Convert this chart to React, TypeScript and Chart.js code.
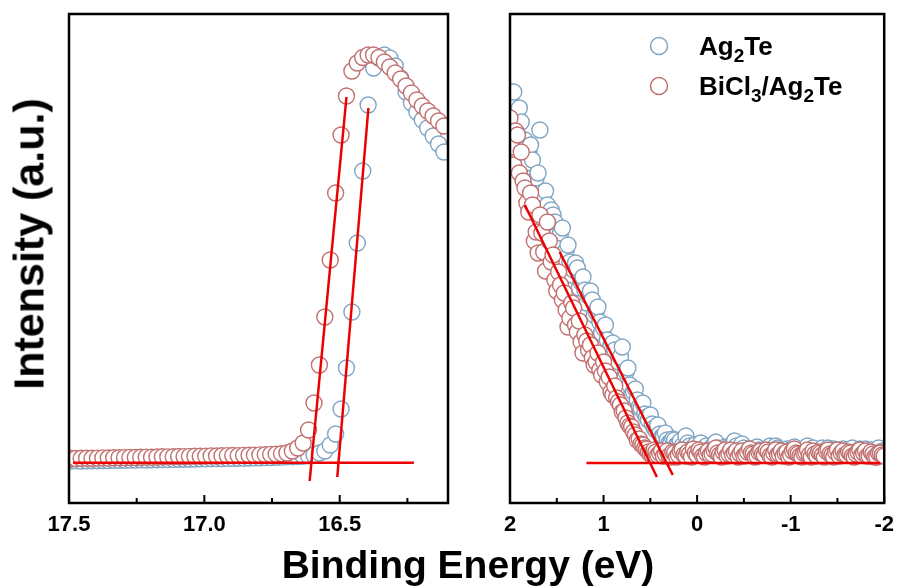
import React, { useEffect, useRef } from "react";
import { Chart, registerables } from "chart.js";

Chart.register(...registerables);

const FONT = "'Liberation Sans', Arial, Helvetica, sans-serif";

// ---------- Left panel (secondary-electron cutoff) ----------
const LEFT_ENERGY = [
  17.495, 17.475, 17.455, 17.435, 17.415, 17.395, 17.375, 17.355, 17.335, 17.315,
  17.295, 17.275, 17.255, 17.235, 17.215, 17.195, 17.175, 17.155, 17.135, 17.115,
  17.095, 17.075, 17.055, 17.035, 17.015, 16.995, 16.975, 16.955, 16.935, 16.915,
  16.895, 16.875, 16.855, 16.835, 16.815, 16.795, 16.775, 16.755, 16.735, 16.715,
  16.695, 16.675, 16.655, 16.635, 16.615, 16.595, 16.575, 16.555, 16.535, 16.515,
  16.495, 16.475, 16.455, 16.435, 16.415, 16.395, 16.375, 16.355, 16.335, 16.315,
  16.295, 16.275, 16.255, 16.235, 16.215, 16.195, 16.175, 16.155, 16.135, 16.115,
];
const LEFT_AG2TE = [
  42.0, 42.1, 42.0, 42.2, 42.3, 42.3, 42.5, 42.4, 42.6, 42.7,
  42.8, 42.9, 42.9, 43.1, 43.0, 43.2, 43.3, 43.4, 43.4, 43.6,
  43.7, 43.8, 43.8, 44.0, 44.1, 44.1, 44.3, 44.4, 44.4, 44.6,
  44.7, 44.8, 44.8, 45.0, 45.1, 45.2, 45.4, 45.5, 45.7, 45.9,
  46.1, 46.3, 46.5, 46.8, 47.2, 48, 50, 52, 58, 69,
  94, 135, 191, 260, 332, 398, 435, 445, 448, 445,
  437, 425, 411, 400, 391, 383, 375, 367, 359, 351,
];
const LEFT_BICL3 = [
  44.6, 44.5, 44.7, 44.8, 44.7, 44.9, 45.1, 45.0, 45.2, 45.3,
  45.4, 45.6, 45.5, 45.7, 45.9, 45.8, 46.0, 46.2, 46.1, 46.3,
  46.5, 46.4, 46.6, 46.8, 46.7, 46.9, 47.1, 47.0, 47.2, 47.4,
  47.5, 47.4, 47.6, 47.8, 47.9, 48.1, 48.3, 48.6, 48.9, 49.3,
  50, 52, 55, 60, 73, 100, 138, 186, 243, 310,
  368, 407, 432, 440, 445.5, 448, 448, 445.5, 441, 436,
  430, 424, 417, 410, 403, 397, 392, 387, 382, 377,
];
const LEFT_FIT_BICL3 = [{ x: 16.475, y: 406 }, { x: 16.611, y: 22 }];
const LEFT_FIT_AG2TE = [{ x: 16.394, y: 395 }, { x: 16.509, y: 26 }];
const LEFT_BASELINE = [{ x: 17.485, y: 40.3 }, { x: 16.226, y: 40.3 }];
const LEFT_TICKS = [17.5, 17.0, 16.5];
const LEFT_MINOR = [17.25, 16.75, 16.25];

// ---------- Right panel (valence band edge) ----------
const RIGHT_ENERGY = [
  2.0, 1.98, 1.96, 1.94, 1.92, 1.9, 1.88, 1.86, 1.84, 1.82,
  1.8, 1.78, 1.76, 1.74, 1.72, 1.7, 1.68, 1.66, 1.64, 1.62,
  1.6, 1.58, 1.56, 1.54, 1.52, 1.5, 1.48, 1.46, 1.44, 1.42,
  1.4, 1.38, 1.36, 1.34, 1.32, 1.3, 1.28, 1.26, 1.24, 1.22,
  1.2, 1.18, 1.16, 1.14, 1.12, 1.1, 1.08, 1.06, 1.04, 1.02,
  1.0, 0.98, 0.96, 0.94, 0.92, 0.9, 0.88, 0.86, 0.84, 0.82,
  0.8, 0.78, 0.76, 0.74, 0.72, 0.7, 0.68, 0.66, 0.64, 0.62,
  0.6, 0.58, 0.56, 0.54, 0.52, 0.5, 0.48, 0.46, 0.44, 0.42,
  0.4, 0.38, 0.36, 0.34, 0.32, 0.3, 0.28, 0.26, 0.24, 0.22,
  0.2, 0.18, 0.16, 0.14, 0.12, 0.1, 0.08, 0.06, 0.04, 0.02,
  0.0, -0.02, -0.04, -0.06, -0.08, -0.1, -0.12, -0.14, -0.16, -0.18,
  -0.2, -0.22, -0.24, -0.26, -0.28, -0.3, -0.32, -0.34, -0.36, -0.38,
  -0.4, -0.42, -0.44, -0.46, -0.48, -0.5, -0.52, -0.54, -0.56, -0.58,
  -0.6, -0.62, -0.64, -0.66, -0.68, -0.7, -0.72, -0.74, -0.76, -0.78,
  -0.8, -0.82, -0.84, -0.86, -0.88, -0.9, -0.92, -0.94, -0.96, -0.98,
  -1.0, -1.02, -1.04, -1.06, -1.08, -1.1, -1.12, -1.14, -1.16, -1.18,
  -1.2, -1.22, -1.24, -1.26, -1.28, -1.3, -1.32, -1.34, -1.36, -1.38,
  -1.4, -1.42, -1.44, -1.46, -1.48, -1.5, -1.52, -1.54, -1.56, -1.58,
  -1.6, -1.62, -1.64, -1.66, -1.68, -1.7, -1.72, -1.74, -1.76, -1.78,
  -1.8, -1.82, -1.84, -1.86, -1.88, -1.9, -1.92, -1.94, -1.96, -1.98,
  -2.0,
];
const RIGHT_AG2TE = [
  403, 388, 411, 372, 391, 395, 381, 352, 363, 340,
  351, 358, 343, 318, 325, 330, 373, 300, 308, 312,
  298, 280, 293, 288, 281, 268, 263, 270, 275, 245,
  253, 258, 241, 228, 233, 240, 235, 215, 221, 226,
  213, 200, 207, 212, 203, 188, 191, 196, 181, 170,
  175, 178, 163, 150, 158, 160, 153, 138, 141, 146,
  156, 125, 131, 135, 118, 108, 111, 114, 103, 96,
  95, 100, 89, 86, 83, 88, 79, 75, 73, 78,
  69, 66, 67, 70, 63, 60, 61, 64, 63, 58,
  59, 62, 57, 55, 67, 60, 57, 54, 56, 58,
  55, 52, 60, 54, 55, 57, 53, 51, 56, 58,
  61, 55, 54, 52, 52, 56, 55, 53, 51, 54,
  62, 57, 53, 50, 59, 55, 51, 53, 54, 52,
  50, 54, 56, 53, 52, 50, 49, 52, 55, 57,
  51, 53, 57, 55, 53, 50, 50, 52, 54, 51,
  51, 55, 56, 53, 52, 50, 49, 51, 54, 57,
  51, 53, 55, 50, 50, 52, 53, 55, 49, 51,
  55, 52, 51, 54, 53, 50, 49, 51, 54, 52,
  51, 50, 53, 55, 49, 51, 52, 54, 50, 52,
  54, 51, 51, 53, 49, 50, 52, 55, 50, 52,
  51,
];
const RIGHT_BICL3 = [
  385, 356, 338, 372, 368, 330, 351, 322, 315, 300,
  291, 310, 298, 262, 271, 250, 288, 270, 251, 232,
  281, 262, 241, 248, 223, 212, 231, 218, 203, 210,
  193, 176, 185, 200, 195, 178, 171, 182, 161, 150,
  168, 162, 153, 158, 145, 138, 141, 150, 133, 128,
  141, 132, 121, 126, 111, 108, 117, 105, 101, 98,
  91, 92, 85, 80, 77, 76, 71, 68, 63, 64,
  59, 58, 55, 54, 51, 49, 48, 53, 51, 48,
  50, 52, 47, 49, 52, 47, 46, 51, 50, 46,
  48, 52, 53, 48, 47, 51, 49, 46, 54, 50,
  48, 53, 51, 47, 46, 50, 52, 48, 49, 53,
  55, 50, 48, 46, 51, 53, 47, 49, 53, 48,
  50, 52, 46, 49, 52, 47, 48, 51, 54, 50,
  49, 46, 47, 51, 52, 49, 48, 53, 51, 47,
  46, 50, 53, 48, 49, 52, 47, 50, 51, 46,
  48, 52, 54, 50, 49, 47, 46, 50, 51, 53,
  48, 46, 52, 49, 47, 51, 50, 48, 46, 52,
  53, 49, 48, 46, 51, 53, 47, 50, 52, 48,
  48, 51, 50, 47, 46, 49, 51, 53, 48, 50,
  52, 47, 47, 51, 49, 46, 46, 50, 50, 48,
  47,
];
const RIGHT_FIT_BICL3 = [{ x: 1.841, y: 298 }, { x: 0.43, y: 26 }];
const RIGHT_FIT_AG2TE = [{ x: 1.469, y: 251 }, { x: 0.26, y: 28 }];
const RIGHT_BASELINE = [{ x: 1.183, y: 40 }, { x: -1.958, y: 40 }];
const RIGHT_TICKS = [2, 1, 0, -1, -2];
const RIGHT_MINOR = [1.5, 0.5, -0.5, -1.5];

const SERIES_NAMES = ["Ag_2Te", "BiCl_3/Ag_2Te"];
const BLUE = "rgb(128,166,196)";
const RED = "rgb(194,112,112)";
const FIT_RED = "#EE0000";

const frameTicksPlugin = {
  id: "frameTicks",
  afterDraw(chart: any, _args: any, opts: any) {
    const { ctx, chartArea: a } = chart;
    const xs = chart.scales.x;
    ctx.save();
    ctx.strokeStyle = "#000";
    ctx.lineWidth = 2;
    ctx.beginPath();
    for (const v of opts.major) {
      const px = xs.getPixelForValue(v);
      ctx.moveTo(px, a.bottom);
      ctx.lineTo(px, a.bottom - 8);
    }
    for (const v of opts.minor) {
      const px = xs.getPixelForValue(v);
      ctx.moveTo(px, a.bottom);
      ctx.lineTo(px, a.bottom - 5);
    }
    ctx.stroke();
    ctx.lineWidth = 2.5;
    ctx.strokeRect(a.left, a.top, a.right - a.left, a.bottom - a.top);
    ctx.restore();
  },
};

const subLegendPlugin = {
  id: "subLegend",
  afterDraw(chart: any, _args: any, opts: any) {
    if (!opts || !opts.items) return;
    const { ctx, chartArea: a } = chart;
    ctx.save();
    opts.items.forEach((item: any, i: number) => {
      const ds = chart.data.datasets[item.datasetIndex];
      const baseY = a.top + 41 + i * 40;
      const mx = a.left + 149;
      ctx.beginPath();
      ctx.arc(mx, baseY - 9, 8.5, 0, Math.PI * 2);
      ctx.fillStyle = "#fff";
      ctx.fill();
      ctx.lineWidth = 1.5;
      ctx.strokeStyle = ds.borderColor;
      ctx.stroke();
      let x = a.left + 189;
      ctx.fillStyle = "#000";
      ctx.textBaseline = "alphabetic";
      ctx.textAlign = "left";
      const parts = item.label.split(/(_\d)/).filter((p: string) => p.length);
      for (const p of parts) {
        if (p.startsWith("_")) {
          ctx.font = `bold 19px ${FONT}`;
          const t = p.slice(1);
          ctx.fillText(t, x, baseY + 6.5);
          x += ctx.measureText(t).width;
        } else {
          ctx.font = `bold 26px ${FONT}`;
          ctx.fillText(p, x, baseY);
          x += ctx.measureText(p).width;
        }
      }
    });
    ctx.restore();
  },
};

function scatterSet(energy: number[], values: number[], color: string, order: number) {
  return {
    data: energy.map((x, i) => ({ x, y: values[i] })),
    borderColor: color,
    backgroundColor: "#ffffff",
    borderWidth: 1.4,
    pointRadius: 8,
    pointHoverRadius: 8,
    showLine: false,
    clip: 0,
    order,
  };
}

function fitSet(points: { x: number; y: number }[]) {
  return {
    data: points,
    borderColor: FIT_RED,
    backgroundColor: FIT_RED,
    borderWidth: 2.5,
    pointRadius: 0,
    showLine: true,
    clip: 0,
    order: 0,
  };
}

function buildConfig(p: any) {
  return {
    type: "scatter",
    data: {
      datasets: [
        scatterSet(p.energy, p.ag2te, BLUE, 2),
        scatterSet(p.energy, p.bicl3, RED, 1),
        fitSet(p.fitA),
        fitSet(p.fitB),
        fitSet(p.base),
      ],
    },
    options: {
      responsive: false,
      animation: false,
      devicePixelRatio: 1,
      layout: { padding: { left: p.left, right: p.right, top: 14, bottom: 0 } },
      plugins: {
        legend: { display: false },
        tooltip: { enabled: false },
        frameTicks: { major: p.ticks, minor: p.minor },
        subLegend: p.legend ? { items: SERIES_NAMES.map((label, i) => ({ label, datasetIndex: i })) } : {},
      },
      scales: {
        x: {
          type: "linear",
          min: p.min,
          max: p.max,
          reverse: true,
          afterBuildTicks: (s: any) => {
            s.ticks = p.ticks.map((value: number) => ({ value }));
          },
          afterFit: (s: any) => {
            s.height = 84;
          },
          grid: { display: false, drawTicks: false },
          border: { display: false },
          ticks: {
            autoSkip: false,
            maxRotation: 0,
            padding: 9,
            color: "#000",
            font: { family: FONT, size: 22, weight: "bold" },
            callback: p.format,
          },
        },
        y: { display: false, min: 0, max: 489 },
      },
    },
    plugins: [frameTicksPlugin, subLegendPlugin],
  };
}

export default function App() {
  const leftRef = useRef<HTMLCanvasElement>(null);
  const rightRef = useRef<HTMLCanvasElement>(null);

  useEffect(() => {
    const left = new Chart(
      leftRef.current as HTMLCanvasElement,
      buildConfig({
        energy: LEFT_ENERGY,
        ag2te: LEFT_AG2TE,
        bicl3: LEFT_BICL3,
        fitA: LEFT_FIT_BICL3,
        fitB: LEFT_FIT_AG2TE,
        base: LEFT_BASELINE,
        ticks: LEFT_TICKS,
        minor: LEFT_MINOR,
        min: 16.1,
        max: 17.5,
        left: 69,
        right: 455,
        legend: false,
        format: (v: number) => Number(v).toFixed(1),
      }) as any
    );
    const right = new Chart(
      rightRef.current as HTMLCanvasElement,
      buildConfig({
        energy: RIGHT_ENERGY,
        ag2te: RIGHT_AG2TE,
        bicl3: RIGHT_BICL3,
        fitA: RIGHT_FIT_BICL3,
        fitB: RIGHT_FIT_AG2TE,
        base: RIGHT_BASELINE,
        ticks: RIGHT_TICKS,
        minor: RIGHT_MINOR,
        min: -2,
        max: 2,
        left: 510,
        right: 16,
        legend: true,
        format: (v: number) => String(Math.round(v)),
      }) as any
    );
    return () => {
      left.destroy();
      right.destroy();
    };
  }, []);

  const canvasStyle: React.CSSProperties = { position: "absolute", left: 0, top: 0 };
  return (
    <div style={{ position: "fixed", left: 0, top: 0, width: 903, height: 587, background: "#fff", overflow: "hidden" }}>
      <canvas ref={leftRef} width={903} height={587} style={canvasStyle} />
      <canvas ref={rightRef} width={903} height={587} style={canvasStyle} />
      <div
        style={{
          position: "absolute",
          left: 29,
          top: 244,
          transform: "translate(-50%, -50%) rotate(-90deg)",
          font: `bold 43px ${FONT}`,
          lineHeight: "43px",
          whiteSpace: "nowrap",
          color: "#000",
        }}
      >
        Intensity (a.u.)
      </div>
      <div
        style={{
          position: "absolute",
          left: 468,
          top: 545,
          transform: "translateX(-50%)",
          font: `bold 39px ${FONT}`,
          lineHeight: "39px",
          whiteSpace: "nowrap",
          color: "#000",
        }}
      >
        Binding Energy (eV)
      </div>
    </div>
  );
}
